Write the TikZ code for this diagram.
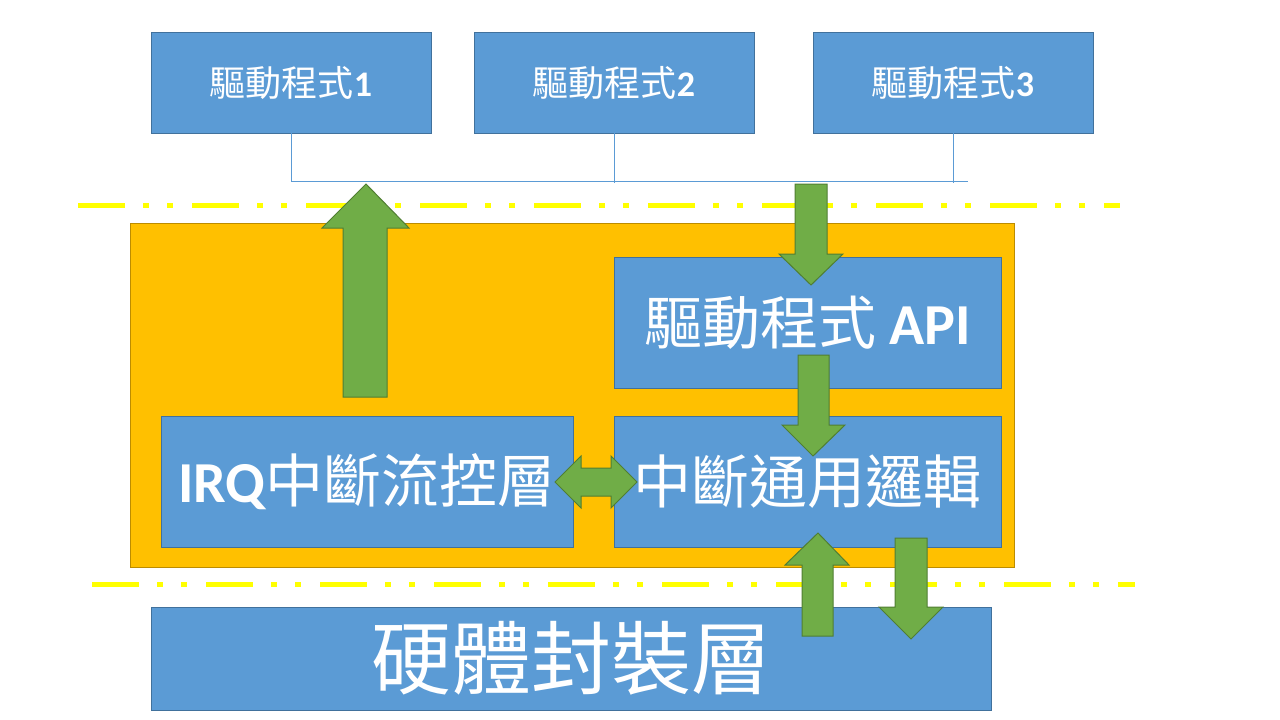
\documentclass[tikz,border=0pt]{standalone}
\usepackage{fontspec}
\newfontfamily\cjk{Noto Sans CJK TC}
\newfontfamily\lat{Carlito}
\definecolor{boxblue}{HTML}{5B9BD5}
\definecolor{boxedge}{HTML}{41719C}
\definecolor{orangefill}{HTML}{FFC000}
\definecolor{orangeedge}{HTML}{BC8C00}
\definecolor{arrowgreen}{HTML}{70AD47}
\definecolor{arrowedge}{HTML}{507E32}
\definecolor{dashyellow}{HTML}{FFFF00}
\tikzset{
  bluebox/.style={draw=boxedge, fill=boxblue, line width=1pt, inner sep=0pt, outer sep=0pt,
    anchor=north west, text=white, font=\cjk},
  conn/.style={draw=boxblue, line width=1pt},
  blockarrow/.style={draw=arrowedge, fill=arrowgreen, line width=1pt, line join=miter},
  layerline/.style={draw=dashyellow, line width=5pt, line cap=butt,
    dash pattern=on 47pt off 18pt on 6pt off 18pt on 6pt off 19pt},
}
\begin{document}
\begin{tikzpicture}[x=1pt, y=-1pt]
\useasboundingbox (0,0) rectangle (1280,720);
\fill[white] (0,0) rectangle (1280,720);

% driver boxes
\node[bluebox, minimum width=280, minimum height=101] (d1) at (151,32)
  {\fontsize{36}{40}\selectfont 驅動程式{\lat\bfseries 1}};
\node[bluebox, minimum width=280, minimum height=101] (d2) at (474,32)
  {\fontsize{36}{40}\selectfont 驅動程式{\lat\bfseries 2}};
\node[bluebox, minimum width=280, minimum height=101] (d3) at (813,32)
  {\fontsize{36}{40}\selectfont 驅動程式{\lat\bfseries 3}};

% connector bus
\coordinate (busend) at (968,181);
\draw[conn] (d1.south) |- (busend);
\draw[conn] (d2.south) -- ++(0,50);
\draw[conn] (d3.south) -- ++(0,50);

% yellow layer lines
\coordinate (l1a) at (78,205.5);
\coordinate (l1b) at (1120,205.5);
\coordinate (l2a) at (92,584.5);
\coordinate (l2b) at (1135,584.5);
\draw[layerline] (l1a) -- (l1b);
\draw[layerline] (l2a) -- (l2b);

% orange core area
\node[draw=orangeedge, fill=orangefill, line width=1pt, inner sep=0pt, outer sep=0pt,
  anchor=north west, minimum width=884, minimum height=344] (core) at (130,223) {};

% hardware layer
\node[bluebox, minimum width=840, minimum height=103] (hw) at (151,607)
  {\fontsize{80}{84}\selectfont 硬體封裝層};

% inner boxes
\node[bluebox, minimum width=387, minimum height=131] (api) at (614,257)
  {\fontsize{58}{62}\selectfont 驅動程式 {\lat\bfseries API}};
\node[bluebox, minimum width=412, minimum height=131] (irq) at (161,416)
  {\fontsize{58}{62}\selectfont {\lat\bfseries IRQ}中斷流控層};
\node[bluebox, minimum width=387, minimum height=131] (gen) at (614,416)
  {\fontsize{58}{62}\selectfont 中斷通用邏輯};

% block arrows
\draw[blockarrow] (343,397) -- (343,228) -- (322,228) -- (366,184) -- (409,228)
  -- (387,228) -- (387,397) -- cycle;
\draw[blockarrow] (795,184) -- (827,184) -- (827,254) -- (843,254) -- (811,285)
  -- (779,254) -- (795,254) -- cycle;
\draw[blockarrow] (798,355) -- (829,355) -- (829,425) -- (845,425) -- (813,456)
  -- (782,425) -- (798,425) -- cycle;
\draw[blockarrow] (555,482) -- (581,456) -- (581,468) -- (611,468) -- (611,456)
  -- (637,482) -- (611,508) -- (611,496) -- (581,496) -- (581,508) -- cycle;
\draw[blockarrow] (802,636) -- (802,565) -- (785,565) -- (818,533) -- (849,565)
  -- (833,565) -- (833,636) -- cycle;
\draw[blockarrow] (895,538) -- (927,538) -- (927,607) -- (943,607) -- (911,639)
  -- (879,607) -- (895,607) -- cycle;
\end{tikzpicture}
\end{document}
